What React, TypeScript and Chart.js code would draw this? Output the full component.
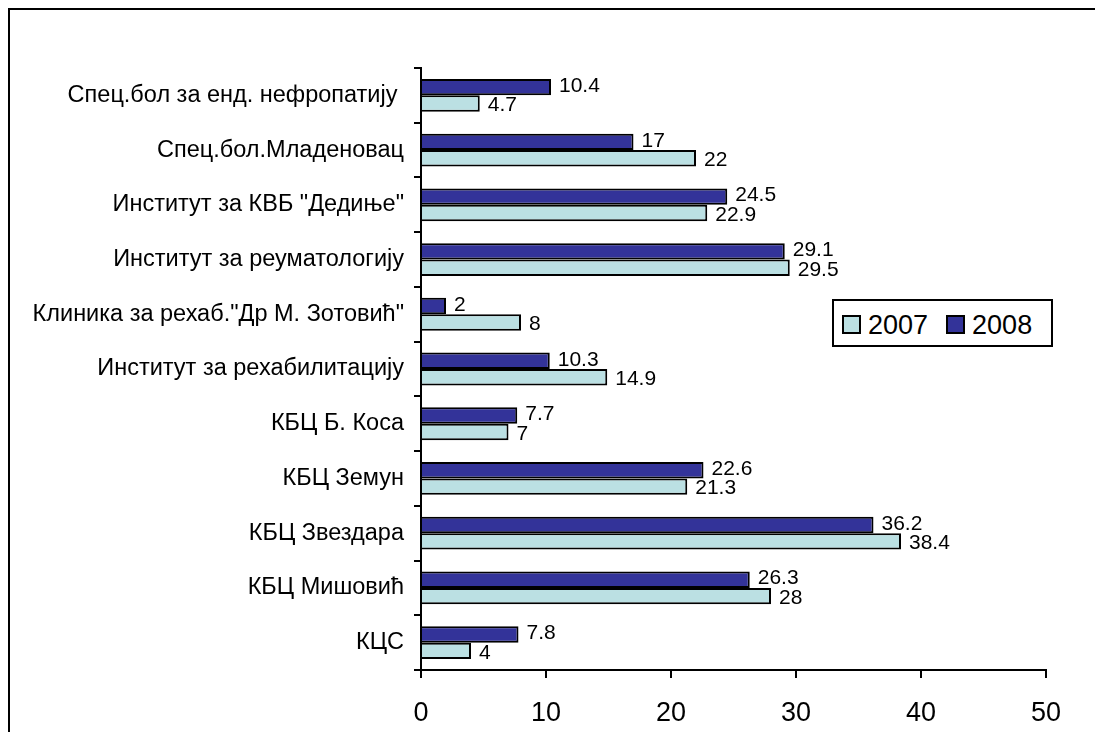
import React, { useEffect, useRef } from "react";
import { Chart, registerables } from "chart.js";

Chart.register(...registerables);

const categories = [
  "Спец.бол за енд. нефропатију ",
  "Спец.бол.Младеновац",
  'Институт за КВБ "Дедиње"',
  "Институт за реуматологију",
  'Клиника за рехаб."Др М. Зотовић"',
  "Институт за рехабилитацију",
  "КБЦ Б. Коса",
  "КБЦ Земун",
  "КБЦ Звездара",
  "КБЦ Мишовић",
  "КЦС",
];
const values2008 = [10.4, 17, 24.5, 29.1, 2, 10.3, 7.7, 22.6, 36.2, 26.3, 7.8];
const values2007 = [4.7, 22, 22.9, 29.5, 8, 14.9, 7, 21.3, 38.4, 28, 4];
const xTicks = [0, 10, 20, 30, 40, 50];

const FONT = "'Liberation Sans', Arial, sans-serif";
const C2008 = "#333399";
const C2007 = "#BBE0E3";

const labelPlugin = {
  id: "valueLabels",
  afterDatasetsDraw(chart: any) {
    const ctx = chart.ctx;
    ctx.save();
    ctx.font = `21px ${FONT}`;
    ctx.fillStyle = "#000";
    ctx.textAlign = "left";
    ctx.textBaseline = "middle";
    chart.data.datasets.forEach((ds: any, di: number) => {
      const meta = chart.getDatasetMeta(di);
      meta.data.forEach((el: any, i: number) => {
        const v = ds.data[i];
        ctx.fillText(String(v), el.x + 8, el.y + (di === 0 ? -1 : 2));
      });
    });
    ctx.restore();
  },
};

export default function App() {
  const ref = useRef<HTMLCanvasElement>(null);
  useEffect(() => {
    document.body.style.overflow = "hidden";
    const chart = new Chart(ref.current!, {
      type: "bar",
      data: {
        labels: categories,
        datasets: [
          {
            label: "2008",
            data: values2008,
            backgroundColor: C2008,
            borderColor: "#000",
            borderWidth: 2,
            categoryPercentage: 0.6,
            barPercentage: 1,
          },
          {
            label: "2007",
            data: values2007,
            backgroundColor: C2007,
            borderColor: "#000",
            borderWidth: 2,
            categoryPercentage: 0.6,
            barPercentage: 1,
          },
        ],
      },
      options: {
        indexAxis: "y",
        animation: false,
        responsive: false,
        maintainAspectRatio: false,
        layout: { padding: { top: 58, right: 57, left: 0, bottom: 0 } },
        plugins: { legend: { display: false }, tooltip: { enabled: false } },
        scales: {
          x: {
            min: 0,
            max: 50,
            afterBuildTicks: (s: any) => {
              s.ticks = xTicks.map((v) => ({ value: v }));
            },
            afterFit: (s: any) => {
              s.height = 62;
            },
            border: { color: "#000", width: 2 },
            grid: {
              drawOnChartArea: false,
              drawTicks: true,
              tickLength: 8,
              color: "#000",
              lineWidth: 2,
            },
            ticks: {
              color: "#000",
              font: { family: FONT, size: 27 },
              padding: 19,
              maxRotation: 0,
            },
          },
          y: {
            afterFit: (s: any) => {
              s.width = 411;
            },
            border: { color: "#000", width: 2 },
            grid: {
              drawOnChartArea: false,
              drawTicks: true,
              tickLength: 7,
              color: "#000",
              lineWidth: 2,
              offset: true,
            },
            ticks: {
              color: "#000",
              font: { family: FONT, size: 23.5 },
              padding: 10,
              autoSkip: false,
            },
          },
        },
      },
      plugins: [labelPlugin],
    } as any);
    return () => chart.destroy();
  }, []);

  const sq = (c: string) => ({
    display: "inline-block",
    width: 19,
    height: 19,
    boxSizing: "border-box" as const,
    background: c,
    border: "2px solid #000",
    marginRight: 7,
    verticalAlign: "middle",
  });

  return (
    <div
      style={{
        position: "relative",
        width: 1095,
        height: 724,
        borderTop: "2px solid #000",
        borderLeft: "2px solid #000",
        boxSizing: "border-box",
        background: "#fff",
      }}
    >
      <canvas
        ref={ref}
        width={1093}
        height={722}
        style={{ position: "absolute", left: 0, top: 0, display: "block" }}
      />
      <div
        style={{
          position: "absolute",
          left: 822,
          top: 289,
          width: 221,
          height: 48,
          boxSizing: "border-box",
          border: "2px solid #000",
          background: "#fff",
          fontFamily: FONT,
          fontSize: 27,
          lineHeight: "44px",
          paddingLeft: 8,
          whiteSpace: "nowrap",
        }}
      >
        <span style={sq(C2007)} />
        <span style={{ verticalAlign: "middle", marginRight: 18 }}>2007</span>
        <span style={sq(C2008)} />
        <span style={{ verticalAlign: "middle" }}>2008</span>
      </div>
    </div>
  );
}
